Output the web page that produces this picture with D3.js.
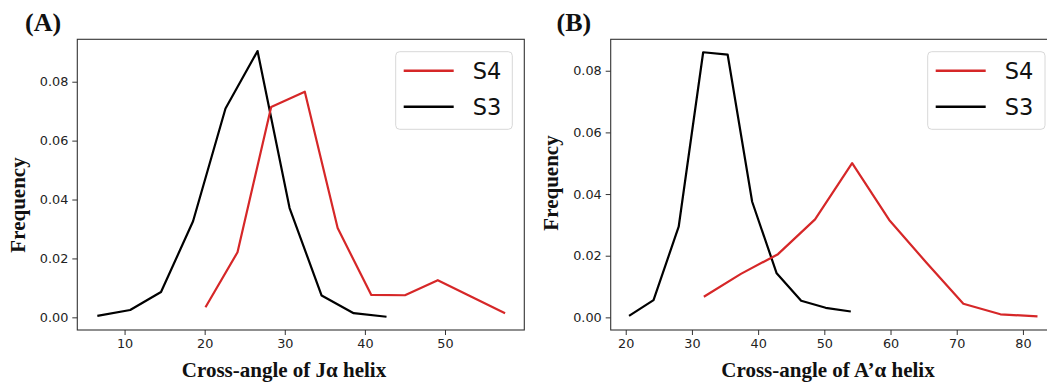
<!DOCTYPE html>
<html><head><meta charset="utf-8">
<script src="https://cdn.jsdelivr.net/npm/d3@7"></script>
<style>
html,body{margin:0;padding:0;background:#fff;}
svg{display:block;}
</style></head>
<body>
<svg id="chart" width="1047" height="383"></svg>
<script>
// Panel A: cross-angle of Jα helix
const aS3x = [6.6, 10.7, 14.55, 18.55, 22.6, 26.6, 30.6, 34.6, 38.6, 42.7];
const aS3y = [0.0005, 0.0025, 0.0086, 0.0326, 0.0709, 0.0904, 0.0371, 0.0074, 0.0014, 0.0002];
const aS4x = [20.1, 24.1, 28.3, 32.5, 36.6, 40.8, 45.0, 49.1, 53.3, 57.5];
const aS4y = [0.0034, 0.0221, 0.0714, 0.0766, 0.0303, 0.0076, 0.0075, 0.0126, 0.0070, 0.0014];
// Panel B: cross-angle of A'α helix
const bS3x = [20.5, 24.2, 28.0, 31.7, 35.4, 39.1, 42.8, 46.5, 50.2, 54.0];
const bS3y = [0.0005, 0.0056, 0.0294, 0.0860, 0.0852, 0.0375, 0.0143, 0.0054, 0.0031, 0.0019];
const bS4x = [31.8, 37.4, 43.0, 48.6, 54.2, 59.8, 65.4, 71.0, 76.6, 82.2];
const bS4y = [0.0067, 0.0141, 0.0205, 0.0318, 0.0500, 0.0316, 0.0178, 0.0044, 0.0010, 0.0003];

const seriesNames = ["S4", "S3"];
const seriesColors = ["#d62728", "#000000"];
const yTicks = [0, 0.02, 0.04, 0.06, 0.08];
const aXTicks = [10, 20, 30, 40, 50];
const bXTicks = [20, 30, 40, 50, 60, 70, 80];
const aXDomain = [4.1, 59.9];
const aYDomain = [-0.0043, 0.0944];
const bXDomain = [17.73, 85.6];
const bYDomain = [-0.0041, 0.0902];

const svg = d3.select("#chart");

function panel(cfg) {
  const x = d3.scaleLinear().domain(cfg.xDomain).range([cfg.left, cfg.right]);
  const y = d3.scaleLinear().domain(cfg.yDomain).range([cfg.bottom, cfg.top]);
  const g = svg.append("g");

  const clipId = "clip" + cfg.id;
  svg.append("clipPath").attr("id", clipId).append("rect")
    .attr("x", cfg.left).attr("y", cfg.top)
    .attr("width", cfg.right - cfg.left).attr("height", cfg.bottom - cfg.top);

  const xAxis = g.append("g").attr("transform", `translate(0,${cfg.bottom})`)
    .call(d3.axisBottom(x).tickValues(cfg.xTicks).tickFormat(d3.format("d")).tickSize(5).tickPadding(4));
  const yAxis = g.append("g").attr("transform", `translate(${cfg.left},0)`)
    .call(d3.axisLeft(y).tickValues(yTicks).tickFormat(d3.format(".2f")).tickSize(5).tickPadding(4));
  [xAxis, yAxis].forEach(a => {
    a.select(".domain").remove();
    a.selectAll(".tick line").attr("stroke", "#333").attr("stroke-width", 1);
    a.selectAll(".tick text").attr("fill", "#222")
      .style("font-family", "'DejaVu Sans', sans-serif").style("font-size", "12.8px");
  });

  const line = d3.line().x(d => x(d[0])).y(d => y(d[1]));
  const lines = g.append("g").attr("clip-path", `url(#${clipId})`);
  const s4 = cfg.s4x.map((v, i) => [v, cfg.s4y[i]]);
  const s3 = cfg.s3x.map((v, i) => [v, cfg.s3y[i]]);
  lines.append("path").datum(s3).attr("d", line).attr("fill", "none")
    .attr("stroke", seriesColors[1]).attr("stroke-width", 2.2).attr("stroke-linejoin", "round");
  lines.append("path").datum(s4).attr("d", line).attr("fill", "none")
    .attr("stroke", seriesColors[0]).attr("stroke-width", 2.2).attr("stroke-linejoin", "round");

  g.append("rect").attr("x", cfg.left).attr("y", cfg.top)
    .attr("width", cfg.right - cfg.left).attr("height", cfg.bottom - cfg.top)
    .attr("fill", "none").attr("stroke", "#333").attr("stroke-width", 1.1);

  const L = cfg.legend;
  g.append("rect").attr("x", L.x).attr("y", L.y).attr("width", L.w).attr("height", L.h)
    .attr("rx", 4).attr("fill", "#fff").attr("stroke", "#d8d8d8").attr("stroke-width", 1);
  seriesNames.forEach((n, i) => {
    const yy = L.y + 19 + i * 36;
    g.append("line").attr("x1", L.x + 8).attr("x2", L.x + 58).attr("y1", yy).attr("y2", yy)
      .attr("stroke", seriesColors[i]).attr("stroke-width", 2.4);
    g.append("text").attr("x", L.x + 77).attr("y", yy + 8.5).text(n)
      .attr("fill", "#111").style("font-family", "'DejaVu Sans', sans-serif").style("font-size", "22.5px");
  });

  g.append("text").attr("x", cfg.xLabelX).attr("y", 377).attr("text-anchor", "middle")
    .style("font-family", "'Liberation Serif', 'Times New Roman', serif").style("font-weight", "bold")
    .style("font-size", "21px").attr("fill", "#111").text(cfg.xLabel);
  g.append("text").attr("transform", `translate(${cfg.yLabelX},${cfg.yLabelY}) rotate(-90)`)
    .attr("text-anchor", "middle")
    .style("font-family", "'Liberation Serif', 'Times New Roman', serif").style("font-weight", "bold")
    .style("font-size", "21px").attr("fill", "#111").text("Frequency");
  g.append("text").attr("x", cfg.tagX).attr("y", 31)
    .style("font-family", "'Liberation Serif', 'Times New Roman', serif").style("font-weight", "bold")
    .style("font-size", "26px").attr("fill", "#111").text(cfg.tag);
}

panel({id: "A", left: 77.3, right: 524.3, top: 39.3, bottom: 330,
  xDomain: aXDomain, yDomain: aYDomain, xTicks: aXTicks,
  s3x: aS3x, s3y: aS3y, s4x: aS4x, s4y: aS4y,
  legend: {x: 395.7, y: 51.7, w: 116.6, h: 77.6},
  xLabel: "Cross-angle of Jα helix", xLabelX: 284,
  yLabelX: 25, yLabelY: 205, tag: "(A)", tagX: 25});

panel({id: "B", left: 610.7, right: 1060, top: 39.3, bottom: 330,
  xDomain: bXDomain, yDomain: bYDomain, xTicks: bXTicks,
  s3x: bS3x, s3y: bS3y, s4x: bS4x, s4y: bS4y,
  legend: {x: 927.7, y: 51.7, w: 117.3, h: 77.6},
  xLabel: "Cross-angle of A\u2019α helix", xLabelX: 828,
  yLabelX: 558, yLabelY: 183, tag: "(B)", tagX: 556.5});
</script>
</body></html>
